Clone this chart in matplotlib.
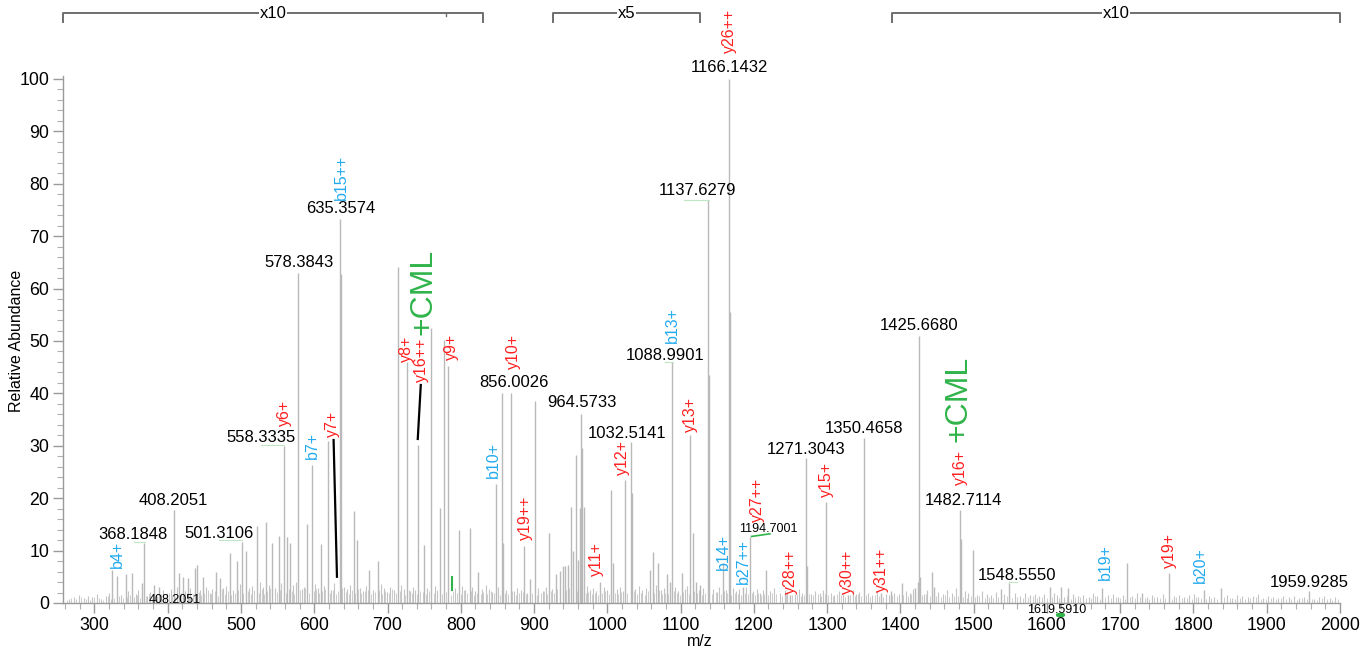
import numpy as np
import matplotlib
matplotlib.use("Agg")
import matplotlib.pyplot as plt
from matplotlib.ticker import MultipleLocator

# main peaks (m/z, relative abundance)
peak_mz = [324.3, 330.7, 342.5, 351.6, 364.4, 368.2, 380.8, 388.0, 408.2, 415.3,
           420.8, 427.2, 437.2, 439.9, 448.6, 466.3, 471.8, 484.5, 494.0, 501.3,
           506.3, 521.8, 534.6, 542.8, 551.8, 558.3, 563.2, 567.3, 578.4, 590.0,
           596.9, 609.2, 618.3, 635.4, 636.4, 654.2, 658.3, 675.1, 687.4, 714.7,
           726.0, 742.0, 750.2, 759.4, 771.7, 777.5, 783.0, 797.6, 812.6, 824.0,
           848.1, 855.9, 858.2, 868.6, 887.0, 894.5, 901.4, 920.5, 929.6, 935.0,
           939.0, 942.0, 946.0, 950.5, 953.7, 956.9, 960.5, 963.2, 964.6, 966.0,
           968.7, 990.0, 1004.6, 1008.0, 1024.0, 1032.5, 1034.0, 1058.0, 1062.0, 1069.7,
           1081.0, 1085.6, 1089.0, 1101.5, 1112.8, 1116.6, 1121.0, 1127.0, 1137.6, 1139.3,
           1157.6, 1166.1, 1167.2, 1185.7, 1194.7, 1216.0, 1250.0, 1271.3, 1272.5, 1298.6,
           1328.0, 1350.5, 1374.0, 1387.0, 1402.0, 1420.0, 1423.7, 1425.7, 1427.0, 1443.3,
           1446.0, 1481.5, 1482.7, 1499.8, 1537.0, 1548.6, 1604.0, 1619.6, 1629.4, 1675.8,
           1710.0, 1730.0, 1767.3, 1814.6, 1838.0, 1958.4]
peak_int = [6.3, 5.2, 5.6, 5.7, 3.8, 11.4, 3.4, 3.0, 17.7, 5.7,
            5.0, 4.7, 6.7, 7.2, 5.0, 6.0, 4.7, 9.5, 8.1, 11.7,
            10.0, 14.6, 15.4, 11.4, 12.7, 30.0, 12.6, 11.5, 63.0, 15.0,
            26.3, 11.3, 31.0, 73.3, 62.8, 17.5, 12.0, 6.3, 8.0, 64.2,
            46.0, 30.2, 11.0, 52.4, 18.1, 50.2, 45.2, 13.9, 14.3, 6.0,
            22.8, 40.0, 11.4, 40.0, 10.8, 4.5, 38.5, 13.3, 5.6, 6.2,
            7.0, 7.0, 7.2, 18.4, 10.0, 28.2, 8.2, 18.1, 36.0, 29.5,
            18.4, 4.0, 21.6, 7.6, 23.5, 30.8, 21.0, 6.3, 9.8, 7.6,
            5.6, 4.0, 45.9, 5.7, 32.0, 13.4, 4.0, 3.5, 77.0, 43.5,
            7.6, 100.0, 55.6, 3.1, 12.5, 6.3, 1.5, 27.6, 7.0, 19.3,
            1.6, 31.4, 2.0, 2.2, 3.9, 2.8, 4.0, 51.0, 5.0, 6.0,
            3.1, 17.7, 12.3, 10.1, 2.6, 3.8, 3.1, 3.1, 2.8, 2.8,
            7.6, 2.0, 5.7, 2.5, 2.8, 2.3]

# baseline noise peaks
noise_mz = [265, 272, 279, 285, 291, 297, 303, 309, 316, 320, 336, 346, 356, 360, 372, 376,
            384, 394, 399, 404, 412, 424, 431, 444, 452, 457, 461, 476, 480, 489, 498, 511,
            515, 526, 530, 538, 546, 555, 571, 575, 583, 586, 601, 605, 613, 623, 627, 640,
            645, 649, 662, 667, 671, 680, 691, 695, 699, 704, 709, 719, 722, 731, 735, 738,
            754, 765, 768, 792, 802, 806, 816, 820, 829, 834, 838, 843, 851, 862, 873, 877,
            882, 891, 906, 912, 916, 925, 972, 976, 981, 985, 995, 999, 1013, 1017, 1021, 1038,
            1043, 1048, 1053, 1066, 1073, 1077, 1093, 1097, 1106, 1109, 1125, 1131, 1145, 1150,
            1153, 1162, 1171, 1176, 1180, 1190, 1199, 1204, 1208, 1212, 1222, 1228, 1236, 1242,
            1246, 1256, 1262, 1266, 1278, 1284, 1290, 1294, 1305, 1310, 1316, 1322, 1335, 1340,
            1344, 1356, 1362, 1368, 1380, 1384, 1392, 1398, 1408, 1413, 1418, 1432, 1437, 1452,
            1458, 1464, 1470, 1476, 1488, 1493, 1505, 1511, 1518, 1524, 1530, 1542, 1556, 1563,
            1570, 1577, 1584, 1590, 1596, 1610, 1614, 1624, 1636, 1642, 1650, 1657, 1663, 1669,
            1683, 1690, 1697, 1704, 1716, 1723, 1737, 1744, 1751, 1758, 1774, 1780, 1787, 1794,
            1801, 1807, 1821, 1828, 1846, 1853, 1860, 1867, 1874, 1881, 1888, 1895, 1902, 1909,
            1916, 1923, 1930, 1937, 1944, 1951, 1965, 1972, 1979, 1986, 1993]
noise_int = [0.8, 1.2, 1.6, 0.9, 1.4, 1.1, 1.7, 0.8, 1.3, 2.0, 1.5, 2.2, 1.8, 2.5, 1.4, 2.1,
             1.6, 2.4, 1.9, 2.6, 3.1, 2.2, 2.8, 2.4, 3.0, 2.0, 2.7, 2.9, 3.3, 2.5, 3.6, 2.8,
             3.2, 4.0, 3.1, 3.5, 2.9, 3.8, 3.4, 4.1, 2.6, 3.0, 3.7, 2.8, 3.2, 2.4, 3.9, 3.0,
             2.6, 3.5, 2.9, 2.2, 3.3, 2.5, 3.6, 2.8, 2.1, 3.0, 2.4, 3.4, 2.7, 2.2, 3.1, 2.5,
             2.9, 3.2, 2.3, 2.8, 3.3, 2.5, 3.0, 2.2, 2.7, 3.4, 2.6, 2.1, 3.0, 2.4, 2.2, 2.9,
             2.5, 2.0, 2.8, 2.3, 3.1, 2.7, 3.2, 2.5, 2.9, 2.2, 3.0, 2.4, 2.7, 3.1, 2.3, 2.6,
             3.2, 2.4, 2.9, 3.4, 2.5, 2.8, 3.0, 2.2, 2.7, 3.3, 2.4, 2.9, 2.6, 2.1, 3.0, 2.5,
             2.8, 2.2, 2.6, 3.0, 2.3, 2.7, 2.0, 2.5, 2.2, 2.8, 1.9, 2.4, 2.1, 1.8, 2.6, 2.0,
             1.7, 2.3, 1.9, 2.5, 2.0, 1.6, 2.2, 1.8, 2.4, 1.7, 2.1, 1.9, 1.5, 2.2, 1.8, 1.6,
             2.0, 1.7, 2.3, 1.9, 2.6, 1.8, 2.4, 2.1, 1.7, 2.5, 2.0, 2.8, 2.2, 1.9, 1.6, 2.3,
             1.8, 1.5, 2.1, 1.7, 1.9, 1.4, 2.0, 1.6, 1.8, 1.3, 1.7, 2.0, 1.5, 1.2, 1.8, 1.4,
             1.6, 1.1, 1.9, 1.3, 1.5, 1.7, 1.2, 1.6, 1.4, 1.9, 1.2, 1.5, 1.1, 1.8, 1.3, 1.6,
             1.2, 1.5, 1.7, 1.1, 1.4, 1.2, 1.6, 1.0, 1.5, 1.3, 1.1, 1.4, 1.7, 1.0, 1.3, 1.2,
             0.9, 1.4, 1.1, 1.3, 1.0, 1.2, 0.8, 1.1, 1.3, 0.9, 1.2]

# finer baseline noise
fine_mz = [262, 268, 275, 282, 288, 294, 300, 306, 312, 318, 323, 327, 333, 339, 344, 349,
           354, 358, 362, 370, 374, 378, 386, 391, 396, 402, 406, 410, 418, 422, 429, 434,
           442, 446, 450, 455, 459, 464, 469, 474, 478, 482, 487, 492, 496, 503, 509, 513,
           518, 524, 528, 532, 536, 540, 549, 553, 561, 565, 569, 573, 581, 588, 593, 599,
           603, 607, 611, 615, 621, 625, 629, 633, 638, 643, 647, 651, 656, 660, 664, 669,
           673, 677, 683, 689, 693, 697, 702, 706, 711, 717, 724, 729, 733, 740, 745, 748,
           752, 756, 763, 767, 774, 780, 786, 790, 795, 800, 804, 809, 814, 818, 822, 827,
           831, 836, 841, 846, 853, 860, 864, 870, 875, 880, 885, 889, 897, 904, 909, 914,
           918, 923, 927, 932, 944, 948, 958, 971, 974, 979, 983, 988, 993, 997, 1002, 1011,
           1015, 1019, 1027, 1036, 1041, 1046, 1051, 1056, 1064, 1071, 1075, 1079, 1083, 1091, 1095, 1099,
           1104, 1111, 1119, 1123, 1129, 1134, 1143, 1148, 1155, 1160, 1164, 1169, 1174, 1178, 1183, 1188,
           1192, 1197, 1202, 1206, 1210, 1214, 1219, 1225, 1231, 1238, 1244, 1252, 1259, 1264, 1269, 1275,
           1281, 1287, 1292, 1297, 1302, 1308, 1313, 1319, 1325, 1331, 1338, 1342, 1347, 1353, 1359, 1365,
           1371, 1377, 1389, 1395, 1404, 1410, 1415, 1429, 1435, 1440, 1449, 1455, 1461, 1467, 1473, 1479,
           1485, 1491, 1497, 1502, 1508, 1515, 1521, 1527, 1534, 1545, 1552, 1560, 1567, 1574, 1581, 1587,
           1593, 1600, 1607, 1617, 1627, 1633, 1639, 1646, 1653, 1660, 1666, 1673, 1680, 1687, 1694, 1700,
           1707, 1713, 1720, 1727, 1734, 1740, 1747, 1754, 1761, 1771, 1777, 1784, 1791, 1798, 1804, 1811,
           1818, 1824, 1832, 1842, 1850, 1857, 1864, 1871, 1878, 1885, 1892, 1899, 1906, 1913, 1920, 1927,
           1934, 1941, 1948, 1955, 1962, 1969, 1976, 1983, 1990, 1997]
fine_int = [0.6, 1.0, 0.7, 1.2, 0.8, 0.5, 1.1, 0.9, 0.6, 1.3, 0.8, 1.0, 1.4, 0.9, 1.2, 1.6,
            1.1, 1.5, 0.9, 1.3, 1.8, 1.0, 1.4, 1.7, 1.2, 1.9, 1.5, 1.1, 2.0, 1.6, 1.3, 1.8,
            2.1, 1.5, 1.9, 2.4, 1.7, 2.2, 1.4, 2.6, 1.8, 2.3, 1.6, 2.0, 2.5, 1.9, 2.2, 1.7,
            2.4, 2.0, 2.7, 1.8, 2.3, 2.9, 2.1, 2.5, 1.9, 2.6, 2.2, 1.8, 2.4, 2.8, 2.0, 2.3,
            2.6, 1.9, 2.2, 2.7, 2.0, 2.5, 1.8, 2.3, 2.8, 2.1, 1.7, 2.4, 2.0, 2.6, 1.9, 2.2,
            2.5, 1.8, 2.1, 2.4, 1.7, 2.3, 2.0, 2.6, 1.9, 2.2, 1.6, 2.4, 2.0, 1.8, 2.3, 2.1,
            1.7, 2.2, 1.9, 2.5, 1.8, 2.1, 1.6, 2.3, 2.0, 1.7, 2.4, 1.9, 2.2, 1.6, 2.0, 1.8,
            2.1, 1.7, 2.3, 1.9, 1.6, 2.0, 1.8, 2.2, 1.5, 1.9, 2.1, 1.7, 2.0, 1.6, 1.9, 2.2,
            1.8, 2.3, 2.0, 2.6, 2.4, 2.8, 2.2, 1.9, 2.1, 1.7, 2.0, 1.6, 1.9, 2.2, 1.8, 2.0,
            1.7, 2.1, 1.9, 2.3, 1.8, 2.0, 1.6, 2.2, 1.9, 2.4, 1.7, 2.0, 1.8, 2.3, 1.9, 1.6,
            2.1, 1.8, 2.2, 1.9, 1.6, 2.0, 1.7, 2.1, 1.8, 2.3, 1.9, 1.6, 2.0, 1.8, 1.5, 1.9,
            1.7, 2.0, 1.6, 1.9, 1.5, 1.8, 1.6, 2.0, 1.7, 1.4, 1.8, 1.5, 1.7, 1.3, 1.6, 1.8,
            1.5, 1.7, 1.4, 1.8, 1.6, 1.3, 1.7, 1.5, 1.2, 1.6, 1.4, 1.7, 1.3, 1.5, 1.2, 1.6,
            1.4, 1.2, 1.5, 1.3, 1.6, 1.4, 1.7, 1.5, 1.8, 1.3, 1.4, 1.2, 1.5, 1.1, 1.3, 1.4,
            1.2, 1.0, 1.3, 1.1, 1.4, 1.0, 1.2, 0.9, 1.1, 1.3, 1.0, 1.2, 0.9, 1.1, 1.3, 1.0,
            1.2, 0.9, 1.1, 1.0, 1.3, 0.8, 1.1, 1.2, 0.9, 1.0, 1.3, 0.8, 1.1, 0.9, 1.2, 1.0,
            0.8, 1.1, 0.9, 1.2, 1.0, 0.8, 1.1, 0.9, 1.0, 0.8, 1.2, 0.9, 1.0, 0.7, 1.1, 0.9,
            0.8, 1.0, 0.7, 1.1, 0.9, 0.8, 1.0, 0.7, 0.9, 1.1, 0.8, 0.7, 1.0, 0.8, 0.9, 0.7,
            0.8, 0.6, 0.9, 0.7, 0.8, 0.6, 0.9, 0.7, 0.6, 0.8]

# black m/z labels: text, x, y
mz_labels = [("1166.1432", 1166.3, 102.1), ("1137.6279", 1123.5, 78.8), ("635.3574", 636.7, 75.2),
             ("578.3843", 579.2, 64.9), ("1425.6680", 1426.0, 52.9), ("1088.9901", 1078.8, 47.3),
             ("856.0026", 872.0, 42.0), ("964.5733", 965.1, 38.2), ("1032.5141", 1026.6, 32.4),
             ("558.3335", 526.9, 31.6), ("1350.4658", 1350.5, 33.3), ("1271.3043", 1270.9, 29.3),
             ("1482.7114", 1486.1, 19.5), ("408.2051", 407.6, 19.5), ("368.1848", 352.2, 13.1),
             ("501.3106", 470.0, 13.3), ("1548.5550", 1559.0, 5.3), ("1959.9285", 1958.4, 3.9)]
small_labels = [("1194.7001", 1219.9, 14.1), ("1619.5910", 1613.6, -1.3), ("408.2051", 409.9, 0.6)]

# ion labels: text, x, y
y_ions = [("y26++", 1167.5, 109.2), ("y6+", 559.0, 36.3), ("y7+", 625.0, 34.2),
          ("y8+", 726.0, 48.5), ("y16++", 746.7, 46.4), ("y9+", 787.6, 48.9),
          ("y10+", 872.0, 48.0), ("y19++", 887.8, 16.3), ("y11+", 985.6, 8.4),
          ("y12+", 1021.0, 27.7), ("y13+", 1113.0, 35.9), ("y27++", 1205.4, 19.6),
          ("y28++", 1249.5, 6.0), ("y15+", 1299.6, 23.5), ("y30++", 1328.3, 6.0),
          ("y31++", 1374.7, 6.3), ("y16+", 1481.6, 25.8), ("y19+", 1767.3, 10.1)]
b_ions = [("b15++", 636.7, 81.3), ("b13+", 1089.3, 53.0), ("b10+", 844.5, 27.3),
          ("b7+", 597.9, 30.0), ("b4+", 331.7, 9.2), ("b14+", 1158.4, 9.8),
          ("b27++", 1185.7, 8.0), ("b19+", 1679.5, 7.9), ("b20+", 1809.3, 7.2)]
cml_labels = [(748.5, 59.3), (1478.8, 38.9)]

# magnification ranges on top
zoom_ranges = [(257, 830, "x10"), (926, 1126.5, "x5"), (1389, 2000, "x10")]

GREY = "#b9b9b9"
RED = "#ff2020"
BLUE = "#22aaee"
GREEN = "#2fb44a"
FONT = ["Liberation Sans", "DejaVu Sans"]

fig = plt.figure(figsize=(13.71, 6.55), dpi=100)
ax = fig.add_axes([0.04595, 0.0794, 0.9313, 0.804])

ax.vlines(fine_mz, 0, fine_int, color="#cdcdcd", lw=0.7)
ax.vlines(noise_mz, 0, noise_int, color="#c4c4c4", lw=0.8)
ax.vlines(peak_mz, 0, peak_int, color=GREY, lw=1.0)

ax.set_xlim(257, 2000)
ax.set_ylim(0, 100.5)

for s in ["top", "right"]:
    ax.spines[s].set_visible(False)
for s in ["left", "bottom"]:
    ax.spines[s].set_color("#9a9a9a")
    ax.spines[s].set_linewidth(1.0)

ax.xaxis.set_major_locator(MultipleLocator(100))
ax.xaxis.set_minor_locator(MultipleLocator(20))
ax.yaxis.set_major_locator(MultipleLocator(10))
ax.yaxis.set_minor_locator(MultipleLocator(2))
ax.set_xticks(np.arange(300, 2001, 100))
ax.tick_params(which="major", length=7, color="#9a9a9a", width=1.0, labelsize=12.8, pad=3)
ax.tick_params(which="minor", length=4, color="#b0b0b0", width=0.8)
for lab in ax.get_xticklabels() + ax.get_yticklabels():
    lab.set_family(FONT)

fig.text(17 / 1371, 1 - 341 / 655, "Relative Abundance", rotation=90, ha="center", va="center",
         fontsize=11.5, family=FONT)
fig.text(700 / 1371, 1 - 641 / 655, "m/z", ha="center", va="center", fontsize=11.5, family=FONT)

for txt, x, y in mz_labels:
    ax.text(x, y, txt, ha="center", va="center", fontsize=12, family=FONT, clip_on=False)
for txt, x, y in small_labels:
    ax.text(x, y, txt, ha="center", va="center", fontsize=9, family=FONT, clip_on=False)
for txt, x, y in y_ions:
    ax.text(x, y, txt, rotation=90, ha="center", va="center", color=RED, fontsize=11.5,
            family=FONT, clip_on=False)
for txt, x, y in b_ions:
    ax.text(x, y, txt, rotation=90, ha="center", va="center", color=BLUE, fontsize=11.5,
            family=FONT, clip_on=False)
for x, y in cml_labels:
    ax.text(x, y, "+CML", rotation=90, ha="center", va="center", color=GREEN, fontsize=23,
            family=FONT)

# black connector lines
ax.plot([626.4, 631.0], [31.1, 5.0], color="black", lw=1.6)
ax.plot([745.4, 741.3], [41.6, 31.3], color="black", lw=1.6)

# faint green leaders under labels
leaders = [([353.5, 369], [11.7, 11.7]), ([470, 501.3], [12.0, 12.0]), ([526.8, 559], [30.2, 30.2]),
           ([1105, 1138.5], [77.0, 77.0]), ([1079, 1089.4], [45.9, 45.9]), ([1548, 1559], [4.0, 4.0])]
for xs, ys in leaders:
    ax.plot(xs, ys, color="#bfe6c5", lw=0.8)
ax.plot([1197, 1222], [12.7, 13.2], color=GREEN, lw=1.2)
ax.plot([788.5, 788.5], [2.5, 5.0], color=GREEN, lw=1.5)
ax.plot([1615, 1622], [-2.3, -2.3], color=GREEN, lw=3, clip_on=False, solid_capstyle="round")

# magnification brackets
for x0, x1, txt in zoom_ranges:
    ax.plot([x0, x0, x1, x1], [110.9, 112.5, 112.5, 110.9], color="#6e6e6e", lw=1.4, clip_on=False)
    ax.text((x0 + x1) / 2, 112.5, txt, ha="center", va="center", fontsize=12, family=FONT,
            bbox=dict(facecolor="white", edgecolor="none", pad=0.5), clip_on=False)
ax.plot([780, 780], [112.5, 112.0], color="#6e6e6e", lw=1.0, clip_on=False)

fig.savefig("out.png", dpi=100)
